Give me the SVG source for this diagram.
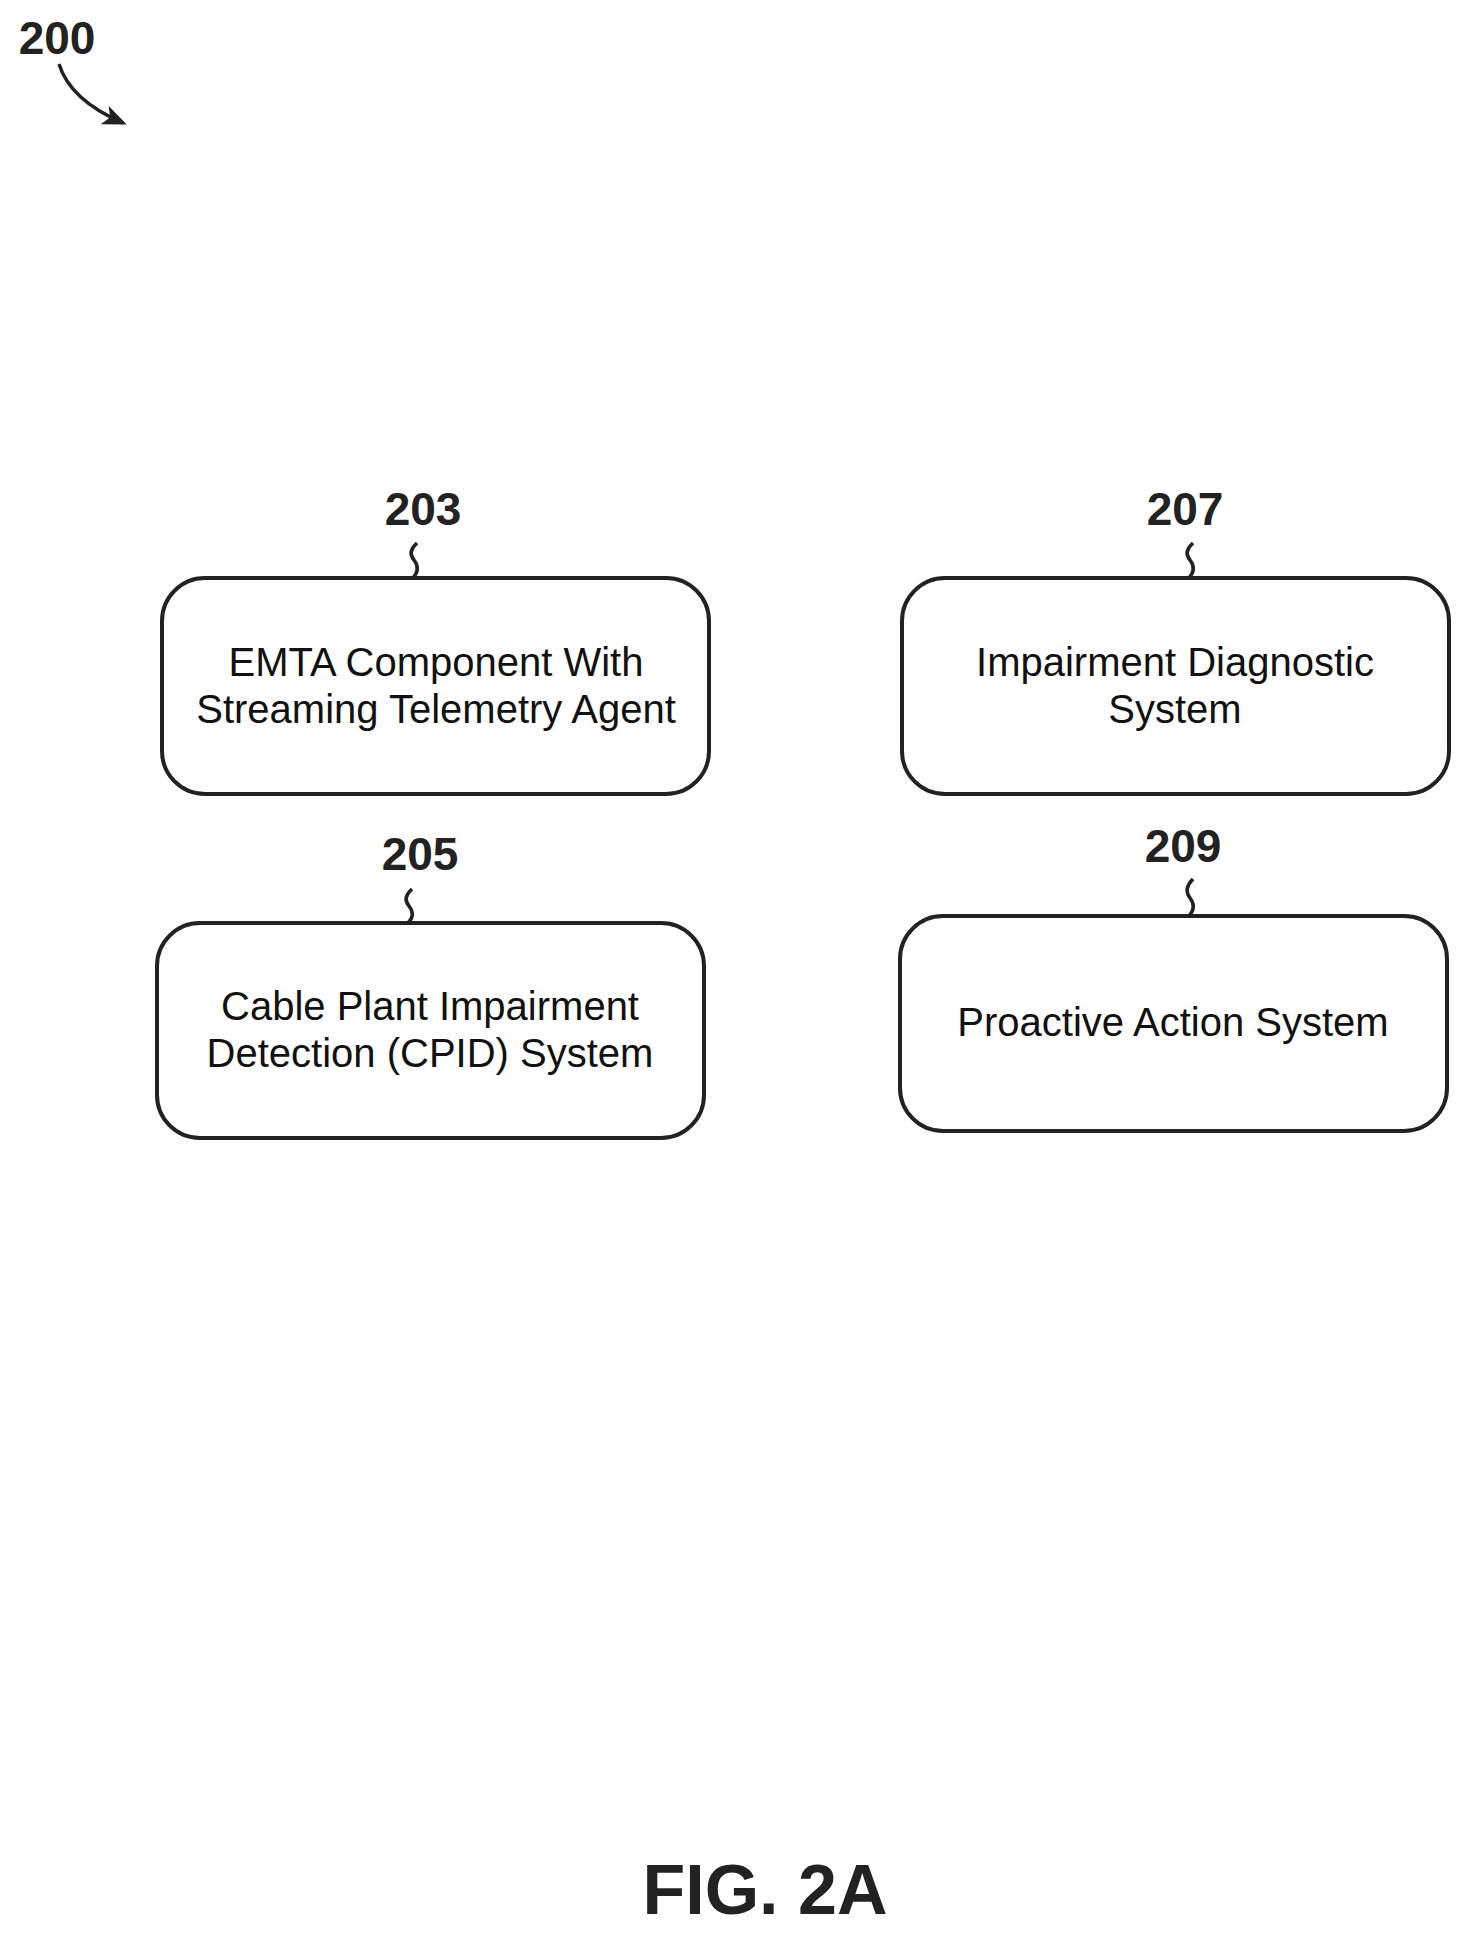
<svg xmlns="http://www.w3.org/2000/svg" width="1472" height="1936" viewBox="0 0 1472 1936">
<style>
.box{fill:#fff;stroke:#222;stroke-width:4}
.t{font-family:"Liberation Sans",Arial,sans-serif;font-size:40px;fill:#111;text-anchor:middle}
.n{font-family:"Liberation Sans",Arial,sans-serif;font-size:46px;font-weight:bold;fill:#222;text-anchor:middle}
.w{fill:none;stroke:#222;stroke-width:3.5}
</style>
<defs><marker id="ah" markerWidth="24" markerHeight="20" refX="20" refY="10" orient="auto" markerUnits="userSpaceOnUse" viewBox="0 0 24 20"><path d="M0,0 L24,10 L0,20 L6,10 Z" fill="#222"/></marker></defs>
<rect width="1472" height="1936" fill="#fff"/>
<g id="fig200">
<text class="n" x="57" y="54">200</text>
<path class="w" d="M59,64 Q70,100 123,123" marker-end="url(#ah)"/>
</g>
<g id="connectors">
<path class="w" d="M417,543 q-10,9 -3,17 q7,9 -1,18"/>
<path class="w" d="M1193,543 q-10,9 -3,17 q7,9 -1,18"/>
<path class="w" d="M412,889 q-10,9 -3,17 q7,9 -1,17"/>
<path class="w" d="M1193,879 q-10,10 -3,19 q7,9 -1,18"/>
</g>
<g id="n203">
<text class="n" x="423" y="525">203</text>
<rect class="box" x="162" y="578" width="547" height="216" rx="43"/>
<text class="t" x="436" y="676">EMTA Component With</text>
<text class="t" x="436" y="723">Streaming Telemetry Agent</text>
</g>
<g id="n207">
<text class="n" x="1185" y="525">207</text>
<rect class="box" x="902" y="578" width="547" height="216" rx="43"/>
<text class="t" x="1175" y="676">Impairment Diagnostic</text>
<text class="t" x="1175" y="723">System</text>
</g>
<g id="n205">
<text class="n" x="420" y="870">205</text>
<rect class="box" x="157" y="923" width="547" height="215" rx="43"/>
<text class="t" x="430" y="1020">Cable Plant Impairment</text>
<text class="t" x="430" y="1067">Detection (CPID) System</text>
</g>
<g id="n209">
<text class="n" x="1183" y="862">209</text>
<rect class="box" x="900" y="916" width="547" height="215" rx="43"/>
<text class="t" x="1173" y="1036">Proactive Action System</text>
</g>
<text x="765" y="1914" style="font-family:'Liberation Sans',Arial,sans-serif;font-size:70px;font-weight:bold;fill:#222;text-anchor:middle">FIG. 2A</text>
</svg>
